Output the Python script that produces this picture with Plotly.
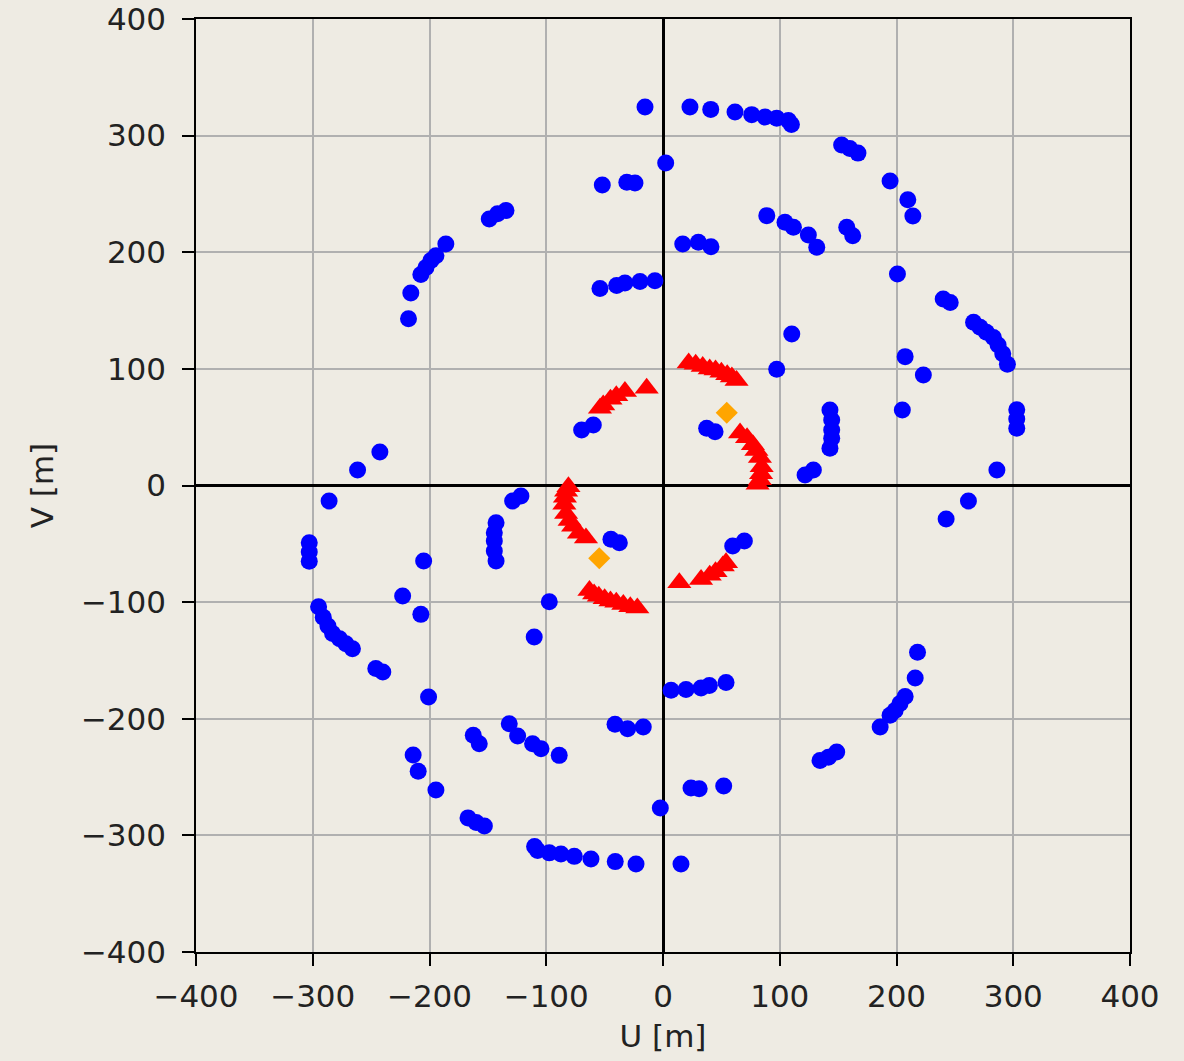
import plotly.graph_objects as go

# Baseline (u, v) samples in metres for one half of the uv-plane.
# Each baseline also appears at (-u, -v) (Hermitian conjugate), added below.
long_u = [
    -15.4, 23.1, 40.9, 61.7, 76.0, 87.4, 97.4, 107.4, 110.0, 153.0, 160.0, 167.0,
    194.5, 209.7, 214.0,
    200.8, 240.0, 246.0, 266.0, 271.6, 277.0, 283.0, 287.0, 291.0, 295.0,
    303.0, 303.0, 303.0, 286.0, 261.6, 242.5,
    -218.0, -216.0, -207.4, -203.0, -198.8, -194.5, -186.0, -148.8, -141.7, -134.5,
    -52.0, -31.0, -24.0, 2.3,
    -54.0, -39.7, -32.6, -19.7, -6.9,
    16.9, 30.3, 41.1,
    88.9, 104.5, 111.7, 124.5, 131.7,
    157.4, 162.5,
    207.4, 223.0, 205.0,
    143.0, 144.5, 144.5, 144.5, 143.0, 128.8, 121.7,
    97.4, 110.3,
    37.4, 44.6,
    -69.7, -59.7,
]
long_v = [
    324.6, 324.5, 322.5, 320.3, 318.0, 316.0, 315.0, 313.0, 309.5, 292.0, 289.0, 285.0,
    261.0, 245.0, 231.0,
    181.4, 160.0, 157.0, 140.0, 135.7, 131.4, 127.0, 120.5, 113.0, 104.0,
    65.0, 57.0, 49.0, 13.3, -13.3, -28.7,
    143.0, 165.0, 181.0, 187.0, 193.0, 197.0, 207.0, 228.6, 233.0, 235.7,
    257.7, 260.0, 259.4, 276.6,
    169.0, 171.4, 173.7, 175.0, 175.6,
    207.0, 208.6, 204.8,
    231.4, 225.7, 221.4, 214.8, 204.3,
    221.4, 214.2,
    110.5, 94.8, 64.7,
    64.8, 56.2, 47.6, 40.5, 31.9, 13.3, 9.0,
    99.6, 130.0,
    49.0, 46.0,
    47.6, 51.9,
]

# Short baselines (one half of the uv-plane)
short_u = [
    22.0, 28.0, 34.0, 40.0, 45.0, 50.0, 55.0, 59.0, 63.0,
    66.0, 72.0, 77.0, 80.0, 83.0, 84.5, 84.0, 83.0, 81.0,
    -14.0, -32.6, -40.0, -45.0, -51.2, -54.0,
]
short_v = [
    105.0, 104.0, 102.0, 100.0, 99.0, 97.0, 95.0, 93.0, 90.0,
    45.0, 41.0, 35.0, 30.0, 24.0, 16.0, 10.0, 5.0, 1.0,
    83.4, 80.5, 77.0, 74.0, 69.0, 66.2,
]

# Phase-centre offset marker
centre_u = [54.6]
centre_v = [62.4]


def with_conjugates(u, v):
    return list(u) + [-x for x in u], list(v) + [-y for y in v]


lu, lv = with_conjugates(long_u, long_v)
su, sv = with_conjugates(short_u, short_v)
cu, cv = with_conjugates(centre_u, centre_v)

bg = "#eeebe3"
font = dict(family="DejaVu Sans", size=31, color="#222222")

fig = go.Figure()
fig.add_trace(go.Scatter(x=lu, y=lv, mode="markers",
                         marker=dict(symbol="circle", size=17, color="#0000ff"),
                         showlegend=False))
fig.add_trace(go.Scatter(x=su, y=sv, mode="markers",
                         marker=dict(symbol="triangle-up", size=21, color="#ff0000"),
                         showlegend=False))
fig.add_trace(go.Scatter(x=cu, y=cv, mode="markers",
                         marker=dict(symbol="diamond", size=17, color="#ffa500"),
                         showlegend=False))

axis_common = dict(
    range=[-400, 400], dtick=100, tick0=0, automargin=False,
    showgrid=True, gridcolor="#b0b0b0", gridwidth=1.5,
    zeroline=True, zerolinecolor="#000000", zerolinewidth=3,
    showline=True, linecolor="#000000", linewidth=1.5, mirror=True,
    ticks="outside", ticklen=12, tickwidth=1.5, tickcolor="#000000",
    tickfont=font, title_font=font,
)

fig.update_xaxes(**axis_common, title_text="U [m]", title_standoff=12, ticklabelstandoff=4)
fig.update_yaxes(**axis_common, title_text="V [m]", title_standoff=18, ticklabelstandoff=10)

fig.update_layout(
    width=1184, height=1061,
    margin=dict(l=196, r=54, t=19, b=109),
    paper_bgcolor=bg, plot_bgcolor=bg,
    font=font,
)

fig.write_html("out.html")
